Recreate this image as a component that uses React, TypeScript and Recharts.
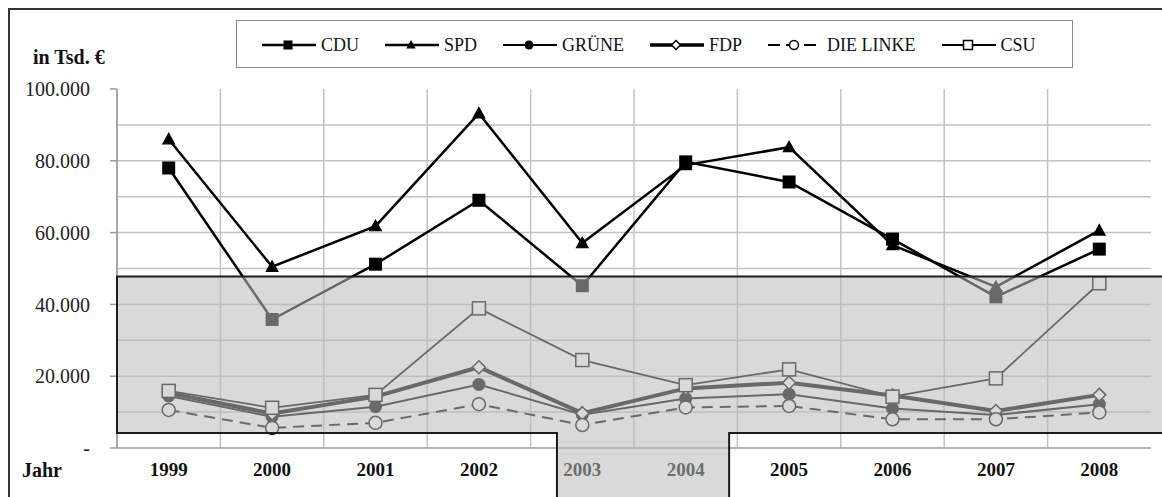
import { LineChart, Line, XAxis, YAxis, CartesianGrid, Legend, ReferenceArea } from 'recharts';

const years = ['1999', '2000', '2001', '2002', '2003', '2004', '2005', '2006', '2007', '2008'];
const cduValues = [78000, 35800, 51200, 69000, 45200, 79700, 74100, 58200, 42100, 55400];
const spdValues = [86000, 50500, 61800, 93200, 57100, 78800, 83800, 56500, 44900, 60600];
const grueneValues = [14500, 8700, 11500, 17700, 9300, 13800, 15000, 11000, 9200, 12200];
const fdpValues = [15300, 9600, 14300, 22500, 9700, 16600, 18200, 14600, 10300, 14800];
const linkeValues = [10600, 5600, 7000, 12200, 6400, 11300, 11700, 8000, 8000, 9900];
const csuValues = [15900, 11200, 14800, 38900, 24500, 17500, 21900, 14300, 19400, 45900];

const yTicks = [0, 20000, 40000, 60000, 80000, 100000];
const gridValues = [10000, 20000, 30000, 40000, 50000, 60000, 70000, 80000, 90000];
// shaded band behind the small parties, and the years whose labels sit under it
const bandFrom = 4200;
const bandTo = 47800;
const shadedYears = ['2003', '2004'];

const data = years.map((year, i) => ({
  year,
  CDU: cduValues[i],
  SPD: spdValues[i],
  'GRÜNE': grueneValues[i],
  FDP: fdpValues[i],
  'DIE LINKE': linkeValues[i],
  CSU: csuValues[i],
}));

type MarkerKind = 'square' | 'triangle' | 'circle' | 'diamond';

interface SeriesStyle {
  key: string;
  width: number;
  dash?: string;
  marker: MarkerKind;
  filled: boolean;
}

const series: SeriesStyle[] = [
  { key: 'CDU', width: 2.5, marker: 'square', filled: true },
  { key: 'SPD', width: 2.5, marker: 'triangle', filled: true },
  { key: 'GRÜNE', width: 2, marker: 'circle', filled: true },
  { key: 'FDP', width: 4, marker: 'diamond', filled: false },
  { key: 'DIE LINKE', width: 2, dash: '11 7', marker: 'circle', filled: false },
  { key: 'CSU', width: 1.8, marker: 'square', filled: false },
];

const FONT = "'Liberation Serif', Tinos, 'Times New Roman', Times, 'DejaVu Serif Condensed', 'DejaVu Serif', serif";

function Marker({ kind, cx, cy, size, filled }: { kind: MarkerKind; cx: number; cy: number; size: number; filled: boolean }) {
  const h = size / 2;
  const fill = filled ? '#000' : '#fff';
  const stroke = '#000';
  const sw = filled ? 0 : 1.5;
  if (kind === 'square') {
    return <rect x={cx - h} y={cy - h} width={size} height={size} fill={fill} stroke={stroke} strokeWidth={sw} />;
  }
  if (kind === 'triangle') {
    const pts = `${cx},${cy - h * 1.1} ${cx - h * 1.05},${cy + h * 0.8} ${cx + h * 1.05},${cy + h * 0.8}`;
    return <polygon points={pts} fill={fill} stroke={stroke} strokeWidth={sw} />;
  }
  if (kind === 'diamond') {
    const pts = `${cx},${cy - h} ${cx + h},${cy} ${cx},${cy + h} ${cx - h},${cy}`;
    return <polygon points={pts} fill={fill} stroke={stroke} strokeWidth={1.5} />;
  }
  return <circle cx={cx} cy={cy} r={h} fill={fill} stroke={stroke} strokeWidth={sw} />;
}

const makeDot = (s: SeriesStyle) => (props: any) => {
  const { cx, cy, index } = props;
  if (cx == null || cy == null) return <g key={`${s.key}-${index}`} />;
  return (
    <g key={`${s.key}-${index}`}>
      <Marker kind={s.marker} cx={cx} cy={cy} size={13} filled={s.filled} />
    </g>
  );
};

const formatY = (v: number) => (v === 0 ? '-' : String(v).replace(/\B(?=(\d{3})+(?!\d))/g, '.'));

const YearTick = (props: any) => {
  const { x, y, payload } = props;
  const shaded = shadedYears.includes(payload.value);
  return (
    <text
      x={x}
      y={y}
      dy="0.71em"
      textAnchor="middle"
      fontFamily={FONT}
      fontSize={19}
      fontWeight="bold"
      fill={shaded ? '#6e6e6e' : '#111'}
    >
      {payload.value}
    </text>
  );
};

function LegendBox() {
  return (
    <div
      style={{
        boxSizing: 'border-box',
        width: 837,
        height: 48,
        border: '1.5px solid #8a8a8a',
        display: 'flex',
        alignItems: 'center',
        paddingLeft: 25,
        paddingTop: 2,
        fontFamily: FONT,
        fontSize: 18,
        color: '#111',
        background: '#fff',
      }}
    >
      {series.map((s) => (
        <div key={s.key} style={{ display: 'flex', alignItems: 'center', marginRight: 26 }}>
          <svg width={54} height={20} style={{ marginRight: 5 }}>
            <line x1={0} y1={10} x2={54} y2={10} stroke="#000" strokeWidth={Math.min(s.width, 3.5)} strokeDasharray={s.dash ? '12 6' : undefined} />
            <Marker kind={s.marker} cx={26} cy={10} size={9} filled={s.filled} />
          </svg>
          <span>{s.key}</span>
        </div>
      ))}
    </div>
  );
}

const OverlayShape = (props: any) => {
  const { x, y, width, height } = props;
  const bottom = y + height;
  const notchL = x + width * 0.4255;
  const notchR = x + width * 0.592;
  const right = x + width + 20;
  const below = bottom + 120;
  const d = `M${x},${y} H${right} V${bottom} H${notchR} V${below} H${notchL} V${bottom} H${x} Z`;
  return <path d={d} fill="#bcbcbc" fillOpacity={0.56} stroke="#1c1c1c" strokeWidth={2} />;
};

export default function App() {
  return (
    <div style={{ position: 'relative', width: 1162, height: 497, overflow: 'hidden', fontFamily: FONT, background: '#fff' }}>
      <style>{'html,body{margin:0;padding:0;overflow:hidden;background:#fff}'}</style>
      <div
        style={{
          position: 'absolute',
          left: 8,
          top: 8,
          width: 1200,
          height: 520,
          borderTop: '2px solid #333',
          borderLeft: '2px solid #333',
        }}
      />
      <div style={{ position: 'absolute', left: 33, top: 47, fontSize: 20, lineHeight: '20px', fontWeight: 'bold', color: '#111' }}>
        in Tsd. €
      </div>
      <div style={{ position: 'absolute', left: 22, top: 460, fontSize: 20, lineHeight: '20px', fontWeight: 'bold', color: '#111' }}>
        Jahr
      </div>
      <div style={{ position: 'absolute', left: 0, top: 0 }}>
        <LineChart width={1162} height={497} data={data} margin={{ top: 89, right: 11, bottom: 0, left: 0 }}>
          <CartesianGrid
            stroke="#c2c2c2"
            strokeWidth={1.5}
            horizontalValues={gridValues}
            verticalCoordinatesGenerator={({ offset }: any) =>
              years.map((_, i) => offset.left + (i * offset.width) / years.length)
            }
          />
          <XAxis
            dataKey="year"
            scale="band"
            height={49}
            axisLine={{ stroke: '#9a9a9a', strokeWidth: 1.5 }}
            tickLine={false}
            tickSize={5}
            tickMargin={10}
            interval={0}
            tick={YearTick}
          />
          <YAxis
            width={117}
            domain={[0, 100000]}
            ticks={yTicks}
            tickFormatter={formatY}
            axisLine={{ stroke: '#9a9a9a', strokeWidth: 1.5 }}
            tickLine={{ stroke: '#9a9a9a', strokeWidth: 1.5 }}
            tickSize={7}
            tickMargin={20}
            tick={{ fontSize: 20, fill: '#222', fontFamily: FONT }}
          />
          <Legend
            layout="vertical"
            align="center"
            verticalAlign="middle"
            wrapperStyle={{ position: 'absolute', left: 236, top: 20, width: 837, height: 48 }}
            content={() => <LegendBox />}
          />
          {series.map((s) => (
            <Line
              key={s.key}
              type="linear"
              dataKey={s.key}
              stroke="#000"
              strokeWidth={s.width}
              strokeDasharray={s.dash}
              dot={makeDot(s)}
              activeDot={false}
              isAnimationActive={false}
            />
          ))}
          <ReferenceArea
            y1={bandFrom}
            y2={bandTo}
            ifOverflow="visible"
            shape={OverlayShape}
            zIndex={1000}
          />
        </LineChart>
      </div>
    </div>
  );
}
